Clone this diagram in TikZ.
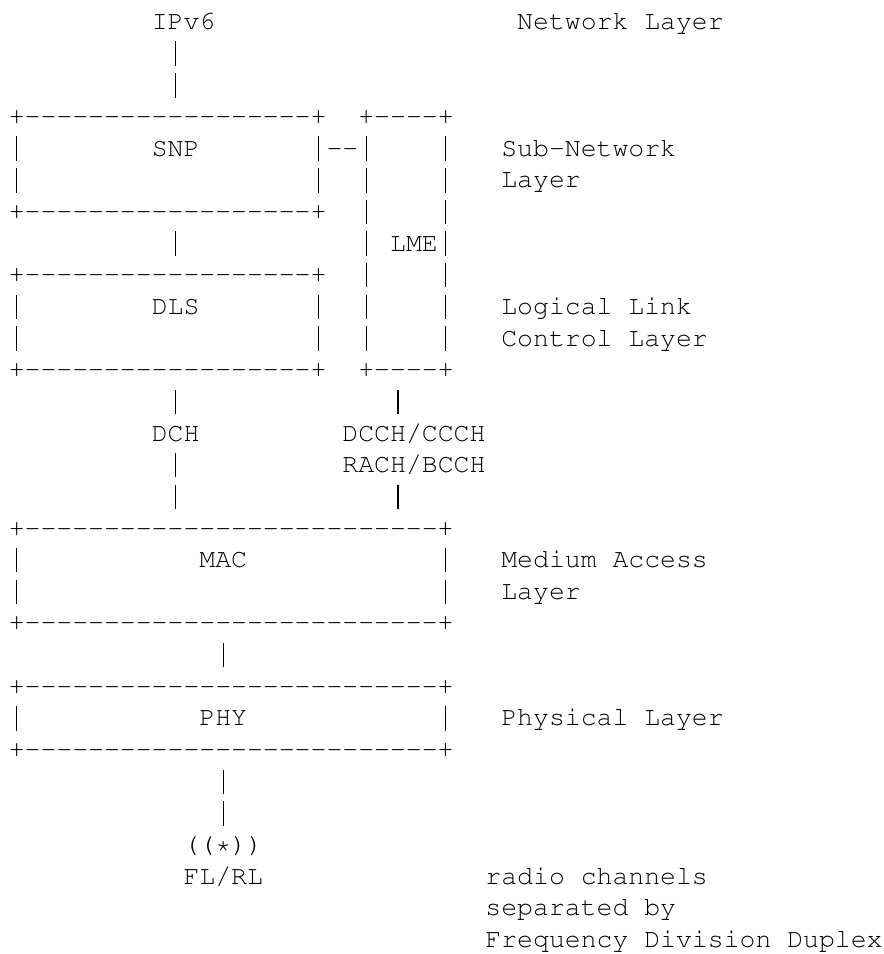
\documentclass[tikz,border=0pt]{standalone}
\usepackage[T1]{fontenc}
\usepackage{tikz}
\newcommand{\ascfont}{\fontencoding{T1}\fontfamily{pcr}\fontsize{19.86pt}{23.75pt}\selectfont}
\newcommand{\boxrule}[1]{+\foreach\k in {1,...,#1}{-{}}+}
\newcommand{\vbar}{\makebox[0.6em]{\rule[-0.18em]{0.055em}{0.925em}}}

\begin{document}
\begin{tikzpicture}[x=11.9175pt,y=23.745pt,
  asc/.style={inner sep=0pt,outer sep=0pt,anchor=base west,font=\ascfont}]
\useasboundingbox (-0.551,-0.070) rectangle (55.08,-30.203);
% network layer
\node[asc] (ipv6) at (9,-1) {IPv6};
\node[asc] (netl) at (32,-1) {Network Layer};
\foreach \r in {2,3} \node[asc] (ipbar\r) at (10,-\r) {\vbar};
% SNP box
\node[asc] (snptop) at (0,-4) {\boxrule{18}};
\node[asc] (snpbot) at (0,-7) {\boxrule{18}};
\foreach \r in {5,6} {\node[asc] (snpl\r) at (0,-\r) {\vbar};\node[asc] (snpr\r) at (19,-\r) {\vbar};}
\node[asc] (snp) at (9,-5) {SNP};
\node[asc] (snplme) at (20,-5) {-{}-};
\node[asc] (subl) at (31,-5) {Sub-Network};
\node[asc] (subl2) at (31,-6) {Layer};
\node[asc] (snpbar) at (10,-8) {\vbar};
% LME box
\node[asc] (lmetop) at (22,-4) {\boxrule{4}};
\node[asc] (lmebot) at (22,-12) {\boxrule{4}};
\foreach \r in {5,...,11} {\node[asc] (lmel\r) at (22,-\r) {\vbar};\node[asc] (lmer\r) at (27,-\r) {\vbar};}
\node[asc] (lme) at (24,-8) {LME};
% DLS box
\node[asc] (dlstop) at (0,-9) {\boxrule{18}};
\node[asc] (dlsbot) at (0,-12) {\boxrule{18}};
\foreach \r in {10,11} {\node[asc] (dlsl\r) at (0,-\r) {\vbar};\node[asc] (dlsr\r) at (19,-\r) {\vbar};}
\node[asc] (dls) at (9,-10) {DLS};
\node[asc] (llcl) at (31,-10) {Logical Link};
\node[asc] (llcl2) at (31,-11) {Control Layer};
% channels
\foreach \r in {13,15,16} \node[asc] (dchbar\r) at (10,-\r) {\vbar};
\node[asc] (dch) at (9,-14) {DCH};
\foreach \r in {13,16} \node[asc] (ctlbar\r) at (24,-\r) {\vbar};
\node[asc] (dcch) at (21,-14) {DCCH/CCCH};
\node[asc] (rach) at (21,-15) {RACH/BCCH};
% MAC box
\node[asc] (mactop) at (0,-17) {\boxrule{26}};
\node[asc] (macbot) at (0,-20) {\boxrule{26}};
\foreach \r in {18,19} {\node[asc] (macl\r) at (0,-\r) {\vbar};\node[asc] (macr\r) at (27,-\r) {\vbar};}
\node[asc] (mac) at (12,-18) {MAC};
\node[asc] (macl) at (31,-18) {Medium Access};
\node[asc] (macl2) at (31,-19) {Layer};
\node[asc] (macbar) at (13,-21) {\vbar};
% PHY box
\node[asc] (phytop) at (0,-22) {\boxrule{26}};
\node[asc] (phybot) at (0,-24) {\boxrule{26}};
\node[asc] (phyl) at (0,-23) {\vbar};
\node[asc] (phyr) at (27,-23) {\vbar};
\node[asc] (phy) at (12,-23) {PHY};
\node[asc] (phyll) at (31,-23) {Physical Layer};
% antenna
\foreach \r in {25,26} \node[asc] (antbar\r) at (13,-\r) {\vbar};
\node[asc] (ant) at (11,-27) {((*))};
\node[asc] (flrl) at (11,-28) {FL/RL};
\node[asc] (radio) at (30,-28) {radio channels};
\node[asc] (radio2) at (30,-29) {separated by};
\node[asc] (radio3) at (30,-30) {Frequency Division Duplex};
\end{tikzpicture}
\end{document}
